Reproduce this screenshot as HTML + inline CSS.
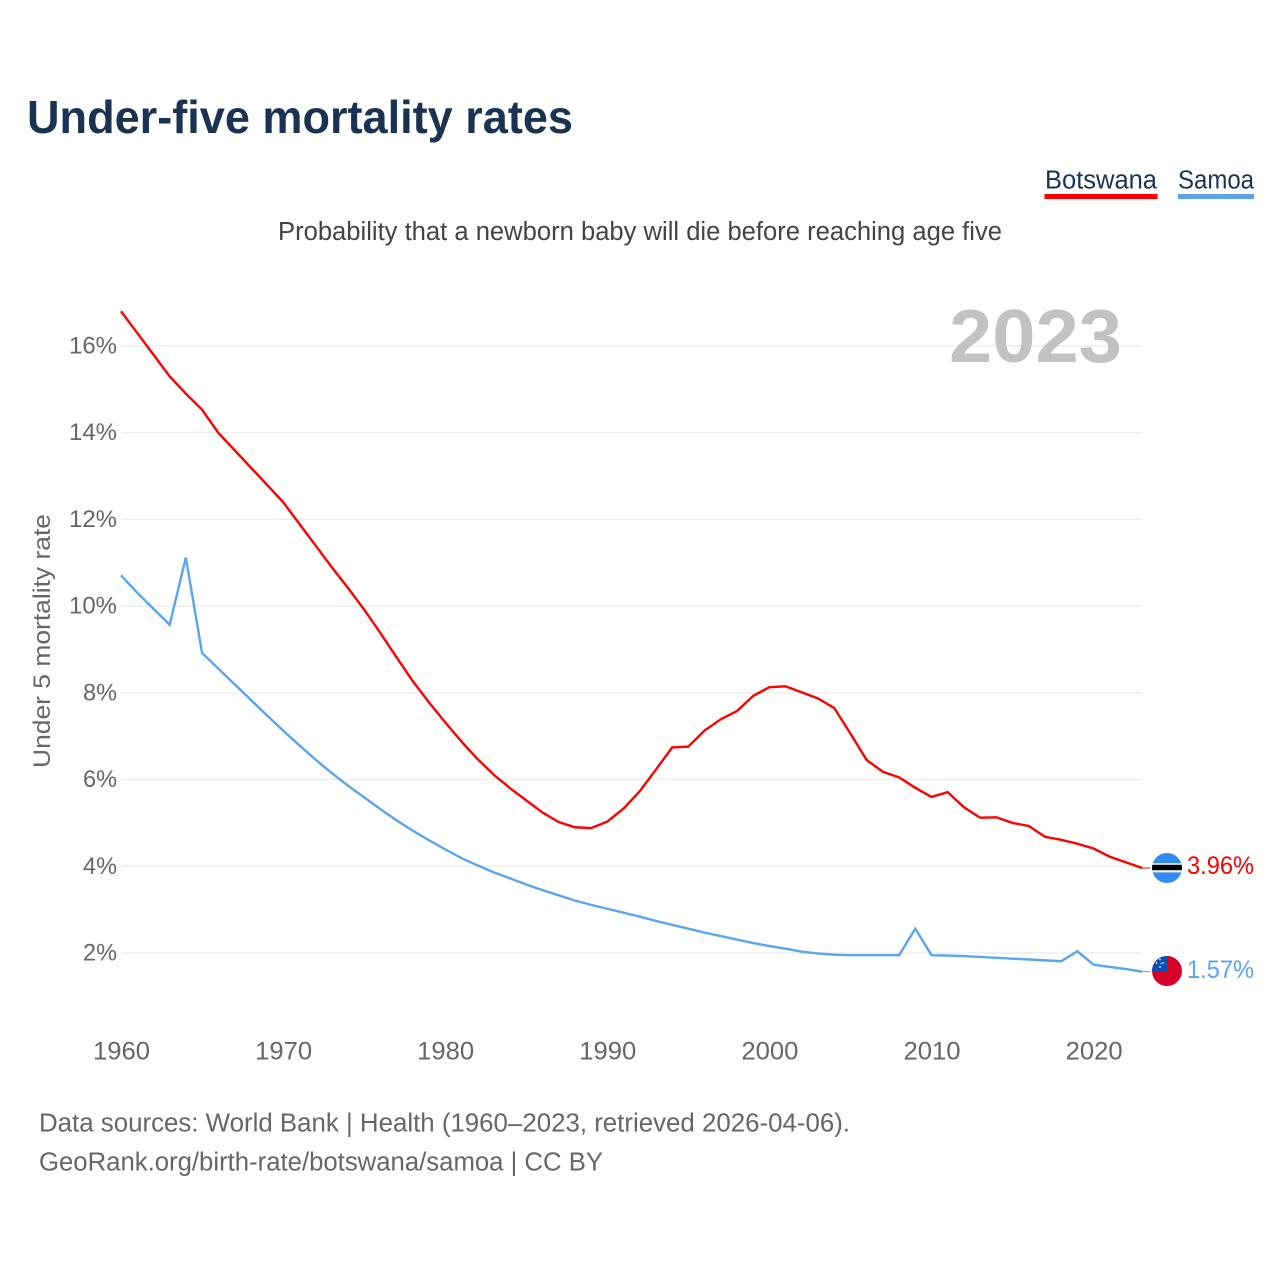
<!DOCTYPE html>
<html lang="en">
<head>
<meta charset="utf-8">
<title>Under-five mortality rates</title>
<style>
html,body{margin:0;padding:0;background:#fff;}
svg{display:block;font-family:"Liberation Sans",sans-serif;}
</style>
</head>
<body>
<svg id="chart" xmlns="http://www.w3.org/2000/svg" width="1280" height="1280" viewBox="0 0 1280 1280">
  <rect x="0" y="0" width="1280" height="1280" fill="#ffffff"/>
  <text x="27" y="133" font-size="46" font-weight="700" fill="#1a3353" textLength="546" lengthAdjust="spacingAndGlyphs">Under-five mortality rates</text>
  <g>
    <text x="1045" y="188.5" font-size="25.5" fill="#1a3353" textLength="112" lengthAdjust="spacingAndGlyphs">Botswana</text>
    <rect x="1044.5" y="194" width="113" height="5" fill="#ff0000"/>
  </g>
  <g>
    <text x="1178" y="188.5" font-size="25.5" fill="#1a3353" textLength="76" lengthAdjust="spacingAndGlyphs">Samoa</text>
    <rect x="1178" y="194" width="76" height="5" fill="#5ba4ee"/>
  </g>
  <text x="278" y="240" font-size="25.5" fill="#444444" textLength="724" lengthAdjust="spacingAndGlyphs">Probability that a newborn baby will die before reaching age five</text>
  <g id="grid"></g>
  <text x="949" y="362" font-size="75" font-weight="700" fill="#c2c2c2" textLength="173" lengthAdjust="spacingAndGlyphs">2023</text>
  <g id="yticks"></g>
  <g id="xticks"></g>
  <text transform="translate(50,768) rotate(-90)" font-size="24.5" fill="#666666" textLength="254" lengthAdjust="spacingAndGlyphs">Under 5 mortality rate</text>
  <g id="series"></g>

  <defs>
    <clipPath id="clip-bw"><circle cx="1167" cy="868" r="15"/></clipPath>
    <clipPath id="clip-ws"><circle cx="1167" cy="971" r="15"/></clipPath>
  </defs>
  <g clip-path="url(#clip-bw)">
    <rect x="1152" y="853" width="30" height="30" fill="#338af3"/>
    <rect x="1152" y="863.2" width="30" height="9.2" fill="#f0f0f0"/>
    <rect x="1152" y="864.8" width="30" height="5.4" fill="#000000"/>
  </g>
  <g clip-path="url(#clip-ws)">
    <rect x="1152" y="956" width="30" height="30" fill="#d80027"/>
    <rect x="1152" y="956" width="15" height="15" fill="#0052b4"/>
    <circle cx="1160" cy="959.5" r="0.9" fill="#f0f0f0"/>
    <circle cx="1156.5" cy="963" r="0.9" fill="#f0f0f0"/>
    <circle cx="1163" cy="963" r="0.9" fill="#f0f0f0"/>
    <circle cx="1160" cy="967" r="0.9" fill="#f0f0f0"/>
    <circle cx="1161" cy="963.5" r="0.6" fill="#f0f0f0"/>
  </g>
  <text x="1187" y="874" font-size="25" fill="#ff0000" textLength="67" lengthAdjust="spacingAndGlyphs">3.96%</text>
  <text x="1187" y="978" font-size="25" fill="#5ba4ee" textLength="67" lengthAdjust="spacingAndGlyphs">1.57%</text>
  <text x="39" y="1131.5" font-size="25.5" fill="#666666" textLength="811" lengthAdjust="spacingAndGlyphs">Data sources: World Bank | Health (1960–2023, retrieved 2026-04-06).</text>
  <text x="39" y="1170.5" font-size="25.5" fill="#666666" textLength="564" lengthAdjust="spacingAndGlyphs">GeoRank.org/birth-rate/botswana/samoa | CC BY</text>
</svg>
<script>
const years = [1960,1961,1962,1963,1964,1965,1966,1967,1968,1969,1970,1971,1972,1973,1974,1975,1976,1977,1978,1979,1980,1981,1982,1983,1984,1985,1986,1987,1988,1989,1990,1991,1992,1993,1994,1995,1996,1997,1998,1999,2000,2001,2002,2003,2004,2005,2006,2007,2008,2009,2010,2011,2012,2013,2014,2015,2016,2017,2018,2019,2020,2021,2022,2023];
const botswana = [16.8,16.3,15.8,15.3,14.9,14.53,14.0,13.6,13.2,12.8,12.4,11.9,11.4,10.9,10.42,9.92,9.38,8.82,8.27,7.78,7.32,6.88,6.47,6.11,5.8,5.52,5.24,5.02,4.9,4.88,5.03,5.33,5.73,6.23,6.74,6.76,7.13,7.39,7.58,7.93,8.13,8.15,8.01,7.87,7.65,7.06,6.45,6.18,6.05,5.81,5.6,5.71,5.36,5.12,5.13,5.0,4.93,4.68,4.61,4.52,4.41,4.22,4.09,3.96];
const samoa = [10.71,10.31,9.94,9.57,11.12,8.92,8.56,8.2,7.84,7.48,7.13,6.79,6.46,6.15,5.86,5.59,5.32,5.06,4.82,4.6,4.39,4.19,4.02,3.86,3.72,3.58,3.45,3.33,3.21,3.11,3.02,2.93,2.84,2.74,2.65,2.56,2.47,2.39,2.31,2.23,2.16,2.1,2.03,1.99,1.96,1.95,1.95,1.95,1.95,2.56,1.95,1.94,1.93,1.91,1.89,1.87,1.85,1.83,1.81,2.04,1.73,1.68,1.63,1.57];
const yTickValues = [2,4,6,8,10,12,14,16];
const xTickValues = [1960,1970,1980,1990,2000,2010,2020];

const NS = 'http://www.w3.org/2000/svg';
function xScale(year){ return 121 + (year - 1960) * 16.21; }
function yScale(v){ return 953 - (v - 2) * 43.36; }
function make(tag, parent){
  const el = document.createElementNS(NS, tag);
  parent.appendChild(el);
  return el;
}

const grid = document.getElementById('grid');
const yticks = document.getElementById('yticks');
yTickValues.forEach(function(v){
  const line = make('line', grid);
  
  
  line.setAttribute('x1', xScale(1960));
  line.setAttribute('x2', xScale(2023));
  line.setAttribute('y1', yScale(v));
  line.setAttribute('y2', yScale(v));
  line.setAttribute('stroke', '#eeeeee');
  line.setAttribute('stroke-width', '1.5');
  const t = make('text', yticks);
  
  
  t.setAttribute('x', 117);
  t.setAttribute('y', yScale(v) + 7.5);
  t.setAttribute('text-anchor', 'end');
  t.setAttribute('font-size', '24.5');
  t.setAttribute('fill', '#666666');
  t.setAttribute('textLength', v >= 10 ? 48 : 34);
  t.setAttribute('lengthAdjust', 'spacingAndGlyphs');
  t.textContent = v + '%';
});

const xticks = document.getElementById('xticks');
xTickValues.forEach(function(y){
  const t = make('text', xticks);
  
  
  t.setAttribute('x', xScale(y) + 0.5);
  t.setAttribute('y', 1059.5);
  t.setAttribute('text-anchor', 'middle');
  t.setAttribute('font-size', '25');
  t.setAttribute('fill', '#666666');
  t.setAttribute('textLength', 57);
  t.setAttribute('lengthAdjust', 'spacingAndGlyphs');
  t.textContent = y;
});

const series = document.getElementById('series');
function drawSeries(values, color){
  const d = values.map(function(v, i){
    return (i ? 'L' : 'M') + xScale(years[i]).toFixed(2) + ' ' + yScale(v).toFixed(2);
  }).join(' ');
  const path = make('path', series);
  
  
  path.setAttribute('d', d);
  path.setAttribute('fill', 'none');
  path.setAttribute('stroke', color);
  path.setAttribute('stroke-width', '2.4');
  path.setAttribute('stroke-linejoin', 'miter');
  const last = values[values.length - 1];
  const stub = make('line', series);
  
  
  stub.setAttribute('x1', xScale(2023));
  stub.setAttribute('x2', xScale(2023) + 8);
  stub.setAttribute('y1', yScale(last));
  stub.setAttribute('y2', yScale(last));
  stub.setAttribute('stroke', color);
  stub.setAttribute('stroke-width', '1');
}
drawSeries(samoa, '#5ba4ee');
drawSeries(botswana, '#ff0000');
</script>
</body>
</html>
